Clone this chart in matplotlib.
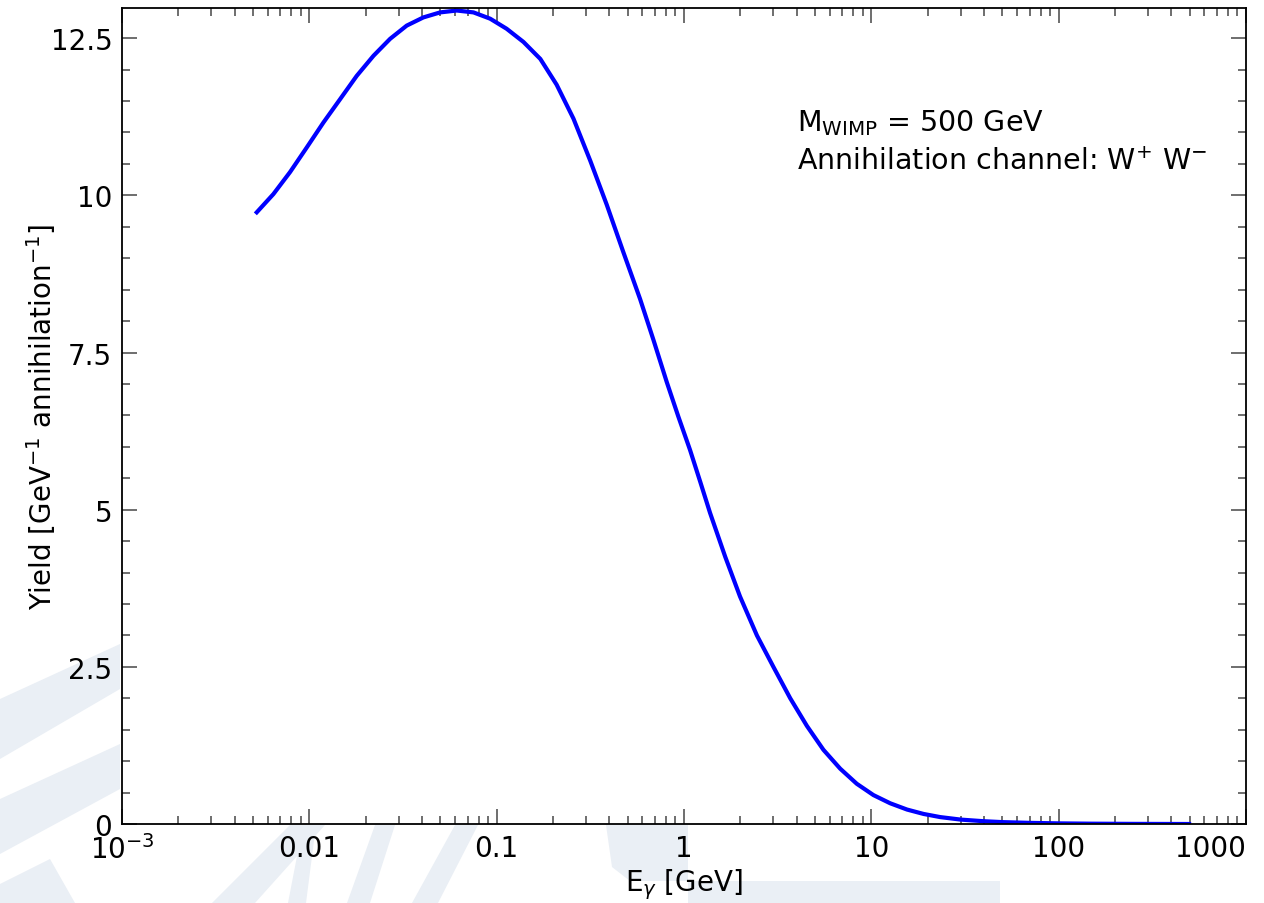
import matplotlib
matplotlib.use("Agg")
import matplotlib.pyplot as plt
from matplotlib.patches import Polygon
from matplotlib.ticker import LogLocator, NullFormatter

plt.rcParams["font.family"] = ["DejaVu Sans"]
plt.rcParams["mathtext.fontset"] = "dejavusans"

# photon spectrum
energy_gev = [0.00524, 0.00643, 0.00789, 0.00968, 0.0119, 0.0146, 0.0179, 0.0220,
              0.0270, 0.0331, 0.0406, 0.0499, 0.0612, 0.0752, 0.0923, 0.113,
              0.139, 0.171, 0.209, 0.257, 0.316, 0.387, 0.474, 0.583, 0.687,
              0.809, 0.933, 1.077, 1.222, 1.377, 1.66, 1.99, 2.45, 3.00, 3.69,
              4.53, 5.55, 6.82, 8.36, 10.26, 12.6, 15.5, 19.0, 23.3, 30.0,
              39.5, 50.0, 70.0, 100.0, 150.0, 250.0, 497.0]
yield_vals = [9.73, 10.02, 10.37, 10.76, 11.16, 11.53, 11.90, 12.22,
              12.49, 12.70, 12.83, 12.91, 12.94, 12.91, 12.81, 12.65,
              12.44, 12.17, 11.76, 11.22, 10.55, 9.85, 9.10, 8.35, 7.70,
              7.03, 6.48, 5.95, 5.44, 4.95, 4.25, 3.62, 3.00, 2.50, 2.00,
              1.56, 1.18, 0.88, 0.64, 0.46, 0.33, 0.23, 0.16, 0.11, 0.07,
              0.045, 0.03, 0.018, 0.01, 0.005, 0.002, 0.0]

x_major = [1e-3, 1e-2, 1e-1, 1, 10, 100, 1000]
x_labels = [r"$10^{-3}$", "0.01", "0.1", "1", "10", "100", "1000"]
y_major = [0, 2.5, 5, 7.5, 10, 12.5]
y_labels = ["0", "2.5", "5", "7.5", "10", "12.5"]

W, H = 1264, 904
fig = plt.figure(figsize=(W / 100, H / 100), dpi=100)

# faint watermark behind the frame (pixel coords, y from top)
wm = "#eaeff5"
shapes = [
    [(0, 700), (120, 645), (120, 690), (0, 760)],
    [(0, 800), (120, 745), (120, 790), (0, 855)],
    [(0, 885), (50, 860), (75, 904), (0, 904)],
    [(212, 904), (290, 826), (325, 826), (255, 904)],
    [(288, 904), (303, 826), (316, 826), (306, 904)],
    [(347, 904), (375, 826), (395, 826), (370, 904)],
    [(412, 904), (455, 826), (478, 826), (438, 904)],
    [(606, 826), (688, 826), (688, 882), (630, 882), (612, 868)],
    [(688, 882), (1000, 882), (1000, 904), (688, 904)],
]
for s in shapes:
    pts = [(x / W, 1 - y / H) for x, y in s]
    fig.patches.append(Polygon(pts, closed=True, transform=fig.transFigure,
                               facecolor=wm, edgecolor="none", zorder=0))

ax = fig.add_axes([122 / W, 1 - 825 / H, (1246 - 122) / W, (825 - 9) / H])
ax.set_facecolor("white")
ax.set_zorder(1)

ax.plot(energy_gev, yield_vals, color="#0000ff", lw=3)

ax.set_xscale("log")
ax.set_xlim(1e-3, 1000)
ax.set_ylim(0, 12.98)

ax.set_xticks(x_major)
ax.set_xticklabels(x_labels)
ax.xaxis.set_minor_locator(LogLocator(base=10, subs=range(2, 10), numticks=20))
ax.xaxis.set_minor_formatter(NullFormatter())
ax.set_yticks(y_major)
ax.set_yticklabels(y_labels)
ax.set_yticks([v * 0.5 for v in range(0, 26)], minor=True)

ax.tick_params(which="both", direction="in", top=True, right=True,
               color="#555555", labelsize=20, width=1.2)
ax.tick_params(which="major", length=11, pad=7)
ax.tick_params(which="minor", length=6)
ax.get_xticklabels()[-1].set_horizontalalignment("right")

for sp in ax.spines.values():
    sp.set_linewidth(1.3)
    sp.set_color("black")

ax.set_xlabel(r"E$_{\gamma}$ [GeV]", fontsize=20, labelpad=2)
ax.set_ylabel(r"Yield [GeV$^{-1}$ annihilation$^{-1}$]", fontsize=20)
ax.yaxis.set_label_coords(-0.057, 0.5)

ax.text(0.6005, 0.86, r"M$_{\mathregular{WIMP}}$ = 500 GeV", transform=ax.transAxes,
        fontsize=20.5, va="center", ha="left")
ax.text(0.6005, 0.8125, r"Annihilation channel: W$^{+}$ W$^{-}$", transform=ax.transAxes,
        fontsize=20.5, va="center", ha="left")

fig.savefig("out.png", dpi=100)
